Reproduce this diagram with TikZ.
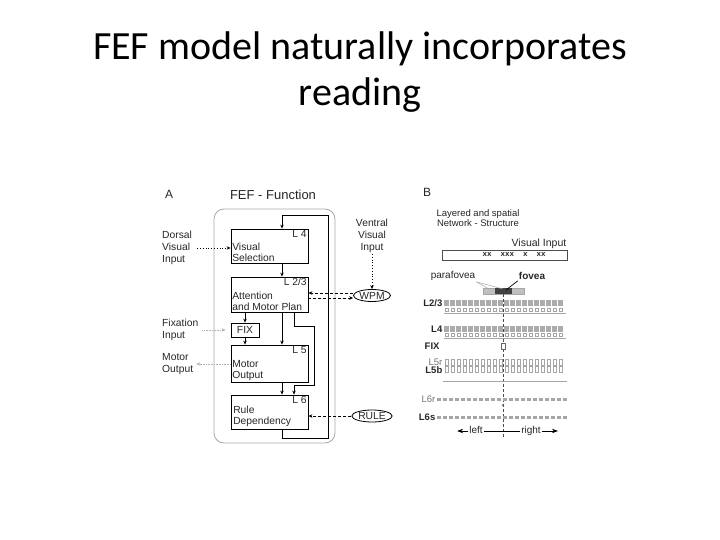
\documentclass[tikz,border=0pt]{standalone}
\usepackage{fontspec}
\setmainfont{Liberation Sans}
\newfontfamily\slidefont{Carlito}
\newfontfamily\inputfont{Liberation Mono}
\usetikzlibrary{positioning}
\usetikzlibrary{shapes.geometric}
\usetikzlibrary{arrows.meta}

\tikzset{
  layerbox/.style={draw, line width=0.8pt, minimum width=77pt, inner sep=0pt},
  layerno/.style={anchor=north east, inner sep=1.5pt, font=\fontsize{10.3}{11}\selectfont},
  boxtext/.style={anchor=south west, align=left, inner sep=1.5pt, font=\fontsize{10.3}{11.5}\selectfont},
  sidetext/.style={align=left, inner sep=1pt, font=\fontsize{10.3}{12}\selectfont},
  inputell/.style={draw, ellipse, line width=0.8pt, inner sep=0.5pt, minimum width=36pt, minimum height=12pt, font=\fontsize{10.3}{11}\selectfont},
  tip/.style={-{Stealth[length=4pt, width=3.5pt]}},
  solidflow/.style={tip, line width=0.8pt},
  dotflow/.style={tip, dotted, line width=0.8pt},
  dashflow/.style={tip, densely dashed, line width=0.8pt},
  greyflow/.style={tip, densely dotted, gray!60, line width=0.6pt},
  rowlabel/.style={anchor=east, inner sep=0.5pt, font=\fontsize{9.5}{10}\selectfont},
  dirword/.style={font=\fontsize{10}{11}\selectfont, inner sep=1pt, text height=7pt, text depth=2pt},
}

\begin{document}
\begin{tikzpicture}[x=1pt, y=-1pt, text=black!85]
\useasboundingbox (0,0) rectangle (720,540);

% title
\node[anchor=base, text=black, font=\slidefont\fontsize{40}{44}\selectfont] (title1) at (360,60) {FEF model naturally incorporates};
\node[anchor=base, text=black, font=\slidefont\fontsize{40}{44}\selectfont] (title2) at (360,106) {reading};

% A: FEF function
\node[font=\fontsize{12}{14}\selectfont] (pa) at (169,194) {A};
\node[font=\fontsize{13}{14}\selectfont] (fefhead) at (273,195) {FEF - Function};
\node[draw=gray!70, line width=0.8pt, rounded corners=10pt, minimum width=121pt, minimum height=234pt] (frame) at (274.5,326) {};

\node[layerbox, minimum height=34pt] (vs) at (269.5,246) {};
\node[layerno] at (vs.north east) {L 4};
\node[boxtext] at (vs.south west) {Visual\\Selection};

\node[layerbox, minimum height=35pt] (att) at (269.5,294.5) {};
\node[layerno] at (att.north east) {L 2/3};
\node[boxtext] at (att.south west) {Attention\\and Motor Plan};

\node[draw, line width=0.8pt, minimum width=28pt, minimum height=14pt, inner sep=0pt, font=\fontsize{10.3}{11}\selectfont] (fix) at (245,330) {FIX};

\node[layerbox, minimum height=37pt] (mot) at (269.5,363.5) {};
\node[layerno] at (mot.north east) {L 5};
\node[boxtext] at (mot.south west) {Motor\\Output};

\node[layerbox, minimum height=34pt] (rule) at (269.5,412) {};
\node[layerno] at (rule.north east) {L 6};
\node[boxtext, inner sep=2.5pt] at (rule.south west) {Rule\\Dependency};

\node[sidetext, anchor=west] (dorsal) at (161,248) {Dorsal\\Visual\\Input};
\node[sidetext, align=center] (ventral) at (372,236) {Ventral\\Visual\\Input};
\node[sidetext, anchor=west] (fixin) at (161,330) {Fixation\\Input};
\node[sidetext, anchor=west] (motout) at (161,364) {Motor\\Output};
\node[inputell] (wpm) at (372,295.5) {WPM};
\node[inputell] (ruleell) at (372,416) {RULE};

% connectors
\draw[solidflow] ([xshift=12.5pt]rule.south) -- ++(0,9) -- ++(46,0) |- ([xshift=12.5pt, yshift=13pt]vs.north) -- ([xshift=12.5pt]vs.north);
\draw[solidflow] ([xshift=12.5pt]vs.south) -- ([xshift=12.5pt]att.north);
\draw[solidflow] (att.south -| fix.north) -- (fix.north);
\draw[solidflow] ([xshift=12.5pt]att.south) -- ([xshift=12.5pt]mot.north);
\draw[solidflow] ([xshift=24.5pt]att.south) -- ++(0,14) -- ++(20,0) -- ++(0,59) -| ([xshift=24.5pt]rule.north);
\draw[solidflow] (fix.south) -- (fix.south |- mot.north);
\draw[solidflow] ([xshift=12.5pt]mot.south) -- ([xshift=12.5pt]rule.north);

\draw[dotflow] ([xshift=4pt]dorsal.east) -- (dorsal.east -| vs.west);
\draw[dotflow] (ventral.south) -- (wpm.north);
\draw[dashflow] ([yshift=2.5pt]wpm.west) -- ([yshift=2.5pt]wpm.west -| att.east);
\draw[dashflow] ([yshift=-2.5pt]wpm.west -| att.east) -- ([yshift=-2.5pt]wpm.west);
\draw[dashflow] (ruleell.west) -- (ruleell.west -| rule.east);
\draw[greyflow] ([xshift=3pt]fixin.east) -- ([xshift=-5pt]fixin.east -| fix.west);
\draw[greyflow] (motout.east -| mot.west) -- ([xshift=2pt]motout.east);

% B: layered network
\node[font=\fontsize{12}{14}\selectfont] (pb) at (427,192) {B};
\node[align=center, font=\fontsize{9.5}{10.5}\selectfont] (bhead) at (478,218) {Layered and spatial\\Network - Structure};
\node[anchor=east, inner sep=0.5pt, font=\fontsize{10.5}{11}\selectfont] (vislbl) at (567,244) {Visual Input};
\node[draw=black!70, line width=0.6pt, minimum width=125pt, minimum height=10.5pt, inner sep=0pt] (visin) at (504.5,255.5) {};
\node[font=\inputfont\bfseries\fontsize{7.5}{8}\selectfont, inner sep=0pt] (xx) at (514,255) {xx~~xxx~~x~~xx};

\node[font=\fontsize{10}{11}\selectfont, inner sep=1pt] (para) at (453,276) {parafovea};
\node[font=\bfseries\fontsize{10}{11}\selectfont, inner sep=1pt] (fov) at (532,276) {fovea};
\draw[fill=gray!50, draw=gray!70, line width=0.4pt] (483,288) rectangle (524,294);
\fill[black!75] (495,288) rectangle (512,294);
\coordinate (barL) at (489,289);
\coordinate (barM) at (503,289);
\coordinate (barC) at (506,290);
\draw[gray!70, line width=0.5pt] (para.south east) -- (barL);
\draw[gray!70, line width=0.5pt] (para.south east) -- (barM);
\draw[black, line width=0.7pt] (fov.south west) -- (barC);
\draw[densely dashed, black!70, line width=0.5pt] (503,294) -- (503,437);

% rows of units
\node[rowlabel, font=\bfseries\fontsize{9.5}{10}\selectfont] (l23) at (443,303) {L2/3};
\node[rowlabel, font=\bfseries\fontsize{9.5}{10}\selectfont] (l4) at (443,329) {L4};
\node[rowlabel, anchor=west, font=\bfseries\fontsize{9.5}{10}\selectfont] (fixlbl) at (424,346) {FIX};
\node[rowlabel, text=black!55] (l5r) at (443,362) {L5r};
\node[rowlabel, font=\bfseries\fontsize{9.5}{10}\selectfont] (l5b) at (443,370) {L5b};
\node[rowlabel, text=black!55] (l6r) at (436,399) {L6r};
\node[rowlabel, font=\bfseries\fontsize{9.5}{10}\selectfont] (l6s) at (436,417) {L6s};

\foreach \i in {0,...,19} {
  \fill[gray!65] ({444+6*\i},300) rectangle ++(5,6);
  \draw[gray!70, line width=0.4pt] ({445+6*\i},308.5) rectangle ++(3,3);
  \fill[gray!65] ({444+6*\i},326) rectangle ++(5,6);
  \draw[gray!70, line width=0.4pt] ({445+6*\i},333.5) rectangle ++(3,3);
  \draw[gray!70, line width=0.4pt] ({445+6*\i},359.5) rectangle ++(3,6);
  \draw[gray!70, line width=0.4pt] ({445+6*\i},366.5) rectangle ++(3,6);
}
\foreach \i in {0,...,21} {
  \fill[gray!70] ({437+6*\i},398) rectangle ++(3.5,3);
  \fill[gray!70] ({437+6*\i},415.5) rectangle ++(3.5,3.5);
}
\draw[gray!70, line width=0.5pt] (444,313.5) -- (566,313.5);
\draw[gray!70, line width=0.5pt] (444,338) -- (566,338);
\draw[gray!70, line width=0.5pt] (443,381) -- (567,381);
\draw[black!60, fill=white, line width=0.4pt] (501,343) rectangle (505,349);
\draw[black!60, line width=0.4pt] (503,405) circle (1.2);

\node[dirword] (lft) at (476,431) {left};
\node[dirword] (rgt) at (531,431) {right};
\draw[-{Stealth[length=6pt, width=4.5pt]}, line width=0.8pt] (lft.west) -- ++(-11,0);
\draw[line width=0.6pt] (lft.east) -- (rgt.west);
\draw[-{Stealth[length=6pt, width=4.5pt]}, line width=0.8pt] (rgt.east) -- ++(16,0);
\end{tikzpicture}
\end{document}
